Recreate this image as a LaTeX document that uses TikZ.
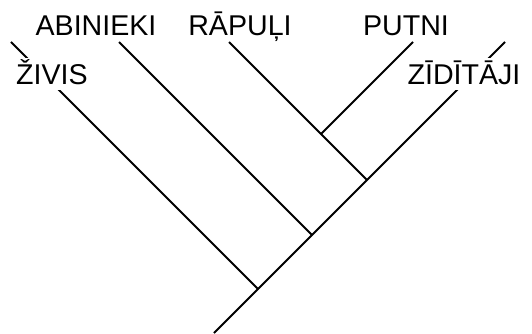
\documentclass[tikz,border=0pt]{standalone}
\usepackage{fontspec}
\setmainfont{Liberation Sans}
\begin{document}
\begin{tikzpicture}[x=1pt,y=-1pt,
  branch/.style={line width=1.9pt},
  taxon/.style={font=\fontsize{28.6}{34}\selectfont, inner sep=0pt, anchor=base},
  covered/.style={taxon, fill=white, text height=27pt, text depth=5pt}]
\useasboundingbox (0,0) rectangle (532,334);
% junctions and ends
\coordinate (root) at (214,333);
\coordinate (j1) at (258,289);
\coordinate (j2) at (312,235);
\coordinate (j3) at (367,180);
\coordinate (j4) at (321,134);
\coordinate (zivtop) at (11,42);
\coordinate (abitop) at (119,42);
\coordinate (raptop) at (229,42);
\coordinate (puttop) at (413,42);
\coordinate (zidtop) at (505,42);
% branches
\draw[branch] (root) -- (j1) -- (j2) -- (j3) -- (zidtop);
\draw[branch] (j1) -- (zivtop);
\draw[branch] (j2) -- (abitop);
\draw[branch] (j3) -- (j4) -- (raptop);
\draw[branch] (j4) -- (puttop);
% labels
\node[taxon] (abi) at (96,36) {ABINIEKI};
\node[taxon] (rap) at (240,36) {RĀPUĻI};
\node[taxon] (put) at (406,36) {PUTNI};
\node[covered] (ziv) at (52,85) {ŽIVIS};
\node[covered] (zid) at (464,85) {ZĪDĪTĀJI};
\end{tikzpicture}
\end{document}
